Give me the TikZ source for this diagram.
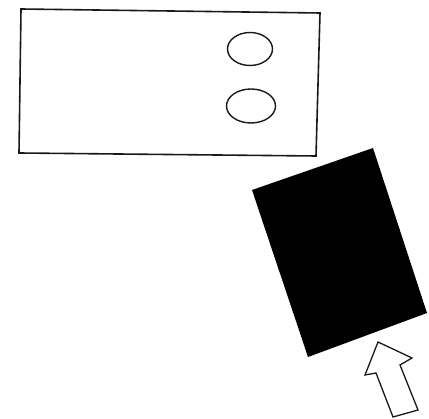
\documentclass[tikz,border=0pt]{standalone}
\usepackage{tikz}

\begin{document}
\begin{tikzpicture}[x=1pt,y=-1pt]
\useasboundingbox (0,0) rectangle (429,419);
\draw[line width=1.6pt,gray!20!black] (21,9) -- (320,13) -- (316,156) -- (19,153) -- cycle;
\draw[line width=1.4pt,gray!20!black] (250,49) ellipse (22.5 and 16.5);
\draw[line width=1.4pt,gray!20!black] (251,106) ellipse (24.5 and 17);
\fill[black] (252,190) -- (373,148) -- (427,313) -- (308,357) -- cycle;
\draw[line width=1.3pt,gray!20!black,line join=miter] (378,342) -- (412,358) -- (400,365) -- (418,410) -- (393,417) -- (376,373) -- (365,375) -- cycle;
\end{tikzpicture}
\end{document}
